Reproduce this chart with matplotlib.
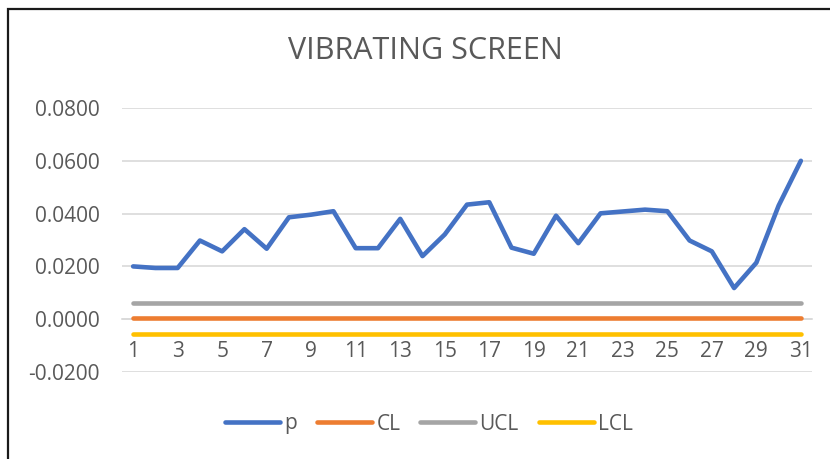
import matplotlib
matplotlib.use("Agg")
import matplotlib.pyplot as plt
from matplotlib.patches import Rectangle
from matplotlib.ticker import FuncFormatter

plt.rcParams['font.family'] = ['Open Sans', 'DejaVu Sans']
plt.rcParams['axes.unicode_minus'] = False

# sample number 1..31
samples = list(range(1, 32))
# fraction defective per sample
p = [0.0200, 0.0194, 0.0194, 0.0298, 0.0257, 0.0341, 0.0267, 0.0386, 0.0396, 0.0409,
     0.0269, 0.0269, 0.0380, 0.0239, 0.0321, 0.0434, 0.0443, 0.0271, 0.0248, 0.0392,
     0.0288, 0.0401, 0.0408, 0.0415, 0.0409, 0.0298, 0.0257, 0.0118, 0.0214, 0.0430,
     0.0600]
cl = [0.0003] * 31
ucl = [0.0063] * 31
lcl = [-0.0057] * 31
y_ticks = [-0.02, 0.0, 0.02, 0.04, 0.06, 0.08]
x_ticks = list(range(1, 32, 2))

text_col = '#595959'

fig = plt.figure(figsize=(8.3, 4.59), dpi=100)
ax = fig.add_axes([122 / 830, 1 - 372 / 459, 690 / 830, 264 / 459])

lw = 3.3
ax.plot(samples, p, color='#4472C4', lw=lw, solid_capstyle='round', solid_joinstyle='round', label='p', zorder=5)
ax.plot(samples, cl, color='#ED7D31', lw=lw, solid_capstyle='round', label='CL', zorder=4)
ax.plot(samples, ucl, color='#A5A5A5', lw=lw, solid_capstyle='round', label='UCL', zorder=4)
ax.plot(samples, lcl, color='#FFC000', lw=lw, solid_capstyle='round', label='LCL', zorder=4)

ax.set_xlim(0.5, 31.5)
ax.set_ylim(-0.02, 0.08)
ax.set_yticks(y_ticks)
ax.yaxis.set_major_formatter(FuncFormatter(lambda v, _: '{:.4f}'.format(v)))
ax.set_xticks(x_ticks)
ax.set_xticklabels([str(t) for t in x_ticks])

ax.grid(axis='y', color='#D9D9D9', lw=1.2, zorder=0)
ax.grid(axis='x', visible=False)
for s in ['top', 'right', 'left']:
    ax.spines[s].set_visible(False)
ax.spines['bottom'].set_position(('data', 0))
ax.spines['bottom'].set_color('#D9D9D9')
ax.spines['bottom'].set_linewidth(1.2)
ax.tick_params(axis='y', length=0, pad=16, labelsize=15, labelcolor=text_col)
ax.tick_params(axis='x', length=0, pad=16, labelsize=15, labelcolor=text_col)

fig.text(425 / 830, 1 - 51 / 459, 'VIBRATING SCREEN', ha='center', va='center',
         fontsize=22, color=text_col)

fig.legend(loc='center', bbox_to_anchor=(429 / 830, 1 - 424 / 459), ncol=4, frameon=False,
           fontsize=15, labelcolor=text_col, handlelength=2.65, handletextpad=0.2,
           columnspacing=0.95)

# chart frame (cut off on right and bottom like the screenshot)
fig.patches.append(Rectangle((8 / 830, -0.05), 1.1, 1 - 9 / 459 + 0.05, transform=fig.transFigure,
                             fill=False, edgecolor='#1a1a1a', lw=1.6))

fig.savefig('out.png', dpi=100)
